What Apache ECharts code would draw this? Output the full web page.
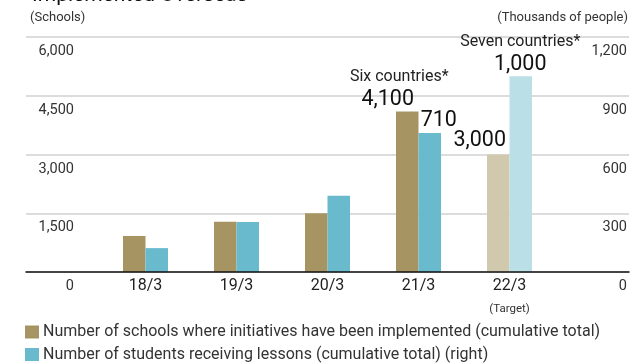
<!DOCTYPE html>
<html>
<head>
<meta charset="utf-8">
<script src="https://cdn.jsdelivr.net/npm/echarts@6/dist/echarts.min.js"></script>
<style>html,body{margin:0;padding:0;background:#fff;}#c{width:630px;height:363px;}</style>
</head>
<body>
<div id="c"></div>
<script>
const categories = ['18/3', '19/3', '20/3', '21/3', '22/3'];
const categorySubLabels = ['', '', '', '', '(Target)'];
const schools = [920, 1280, 1500, 4100, 3000];
const students = [122, 255, 390, 710, 1000];
const schoolNotes = ['', '', '', 'Six countries*', ''];
const studentNotes = ['', '', '', '', 'Seven countries*'];
const labeledIdx = [3, 4];
const leftTicks = [0, 1500, 3000, 4500, 6000];
const rightTicks = [0, 300, 600, 900, 1200];
const seriesNames = ['Number of schools where initiatives have been implemented (cumulative total)',
  'Number of students receiving lessons (cumulative total) (right)'];

const FONT = 'Roboto, "Liberation Sans", Arial, sans-serif';
const C_SCH = '#A69562', C_STU = '#6ABACE';
const C_SCH_T = '#D1C9AE', C_STU_T = '#BBDFE7';
const fmt = v => v.toLocaleString('en-US');

const labelCfg = {
  schools: {3: {offset: [-19.5, 0], notePad: 23}, 4: {offset: [-18.5, 0], distance: 2}},
  students: {3: {offset: [9, 0]}, 4: {offset: [-0.5, 0]}}
};

function buildData(vals, notes, cfg, targetColor) {
  return vals.map((v, i) => {
    const d = {value: v};
    if (i === vals.length - 1) d.itemStyle = {color: targetColor};
    if (labeledIdx.includes(i)) {
      const c = cfg[i] || {};
      d.label = {
        show: true, position: 'top', distance: c.distance || 0, offset: c.offset || [0, 0],
        formatter: p => (notes[i] ? '{n|' + notes[i] + '}\n' : '') + '{v|' + fmt(p.value) + '}',
        rich: {
          n: {fontSize: 16, lineHeight: 20, color: '#222', fontFamily: FONT, padding: [0, 0, 0, c.notePad || 0]},
          v: {fontSize: 21.5, lineHeight: 24, color: '#111', fontFamily: FONT}
        }
      };
    }
    return d;
  });
}

const legendBase = {
  orient: 'vertical', left: 25, padding: 0, itemWidth: 14, itemHeight: 13,
  icon: 'rect', textStyle: {fontSize: 16, color: '#333', fontFamily: FONT, padding: [0, 0, 0, -1]}
};

const chart = echarts.init(document.getElementById('c'), null, {renderer: 'canvas'});
const gTop = 37, gBottom = 91;
chart.setOption({
  animation: false,
  textStyle: {fontFamily: FONT},
  title: {text: 'Implemented Overseas', left: 27, top: -20, textStyle: {fontSize: 21, fontWeight: 'normal', color: '#111', fontFamily: FONT}},
  graphic: [
    {type: 'text', left: 30, top: 11, style: {text: '(Schools)', fontSize: 13, fill: '#333', fontFamily: FONT}},
    {type: 'text', right: 2, top: 11, style: {text: '(Thousands of people)', fontSize: 13, fill: '#333', fontFamily: FONT}}
  ],
  legend: [
    Object.assign({}, legendBase, {top: 324, data: [seriesNames[0]]}),
    Object.assign({}, legendBase, {top: 346.5, data: [seriesNames[1]]})
  ],
  grid: [
    {left: 26, right: 0, top: gTop, bottom: gBottom},
    {left: 100, right: 75, top: gTop, bottom: gBottom}
  ],
  xAxis: [
    {type: 'category', gridIndex: 0, data: [''], axisLine: {show: true, lineStyle: {color: '#111', width: 1.5}},
     axisTick: {show: false}, axisLabel: {show: false}, z: 5},
    {type: 'category', gridIndex: 1, data: categories.map((c, i) => categorySubLabels[i] ? c + '\n{t|' + categorySubLabels[i] + '}' : c),
     axisLine: {show: false}, axisTick: {show: false},
     axisLabel: {interval: 0, margin: 5, fontSize: 16, color: '#222', fontFamily: FONT, lineHeight: 18,
       rich: {t: {fontSize: 11.5, color: '#333', lineHeight: 28, fontFamily: FONT}}}}
  ],
  yAxis: [
    {type: 'value', gridIndex: 0, position: 'left', min: leftTicks[0], max: leftTicks[leftTicks.length - 1], interval: leftTicks[1] - leftTicks[0],
     axisLine: {show: false}, axisTick: {show: false},
     splitLine: {lineStyle: {color: '#dcdcdc', width: 2}},
     axisLabel: {inside: true, margin: 48, align: 'right', verticalAlign: 'top', padding: [7, 0, 0, 0], fontSize: 14.5, color: '#333', fontFamily: FONT,
       formatter: v => fmt(v)}},
    {type: 'value', gridIndex: 0, position: 'right', min: rightTicks[0], max: rightTicks[rightTicks.length - 1], interval: rightTicks[1] - rightTicks[0],
     axisLine: {show: false}, axisTick: {show: false}, splitLine: {show: false},
     axisLabel: {inside: true, margin: 2, align: 'right', verticalAlign: 'top', padding: [7, 0, 0, 0], fontSize: 14.5, color: '#333', fontFamily: FONT,
       formatter: v => fmt(v)}},
    {type: 'value', gridIndex: 1, min: leftTicks[0], max: leftTicks[leftTicks.length - 1], show: false},
    {type: 'value', gridIndex: 1, min: rightTicks[0], max: rightTicks[rightTicks.length - 1], show: false}
  ],
  series: [
    {name: seriesNames[0], type: 'bar', xAxisIndex: 1, yAxisIndex: 2, barWidth: 22.5, barGap: '0%',
     itemStyle: {color: C_SCH}, data: buildData(schools, schoolNotes, labelCfg.schools, C_SCH_T)},
    {name: seriesNames[1], type: 'bar', xAxisIndex: 1, yAxisIndex: 3, barWidth: 22.5, barGap: '0%',
     itemStyle: {color: C_STU}, data: buildData(students, studentNotes, labelCfg.students, C_STU_T)}
  ]
});
</script>
</body>
</html>
